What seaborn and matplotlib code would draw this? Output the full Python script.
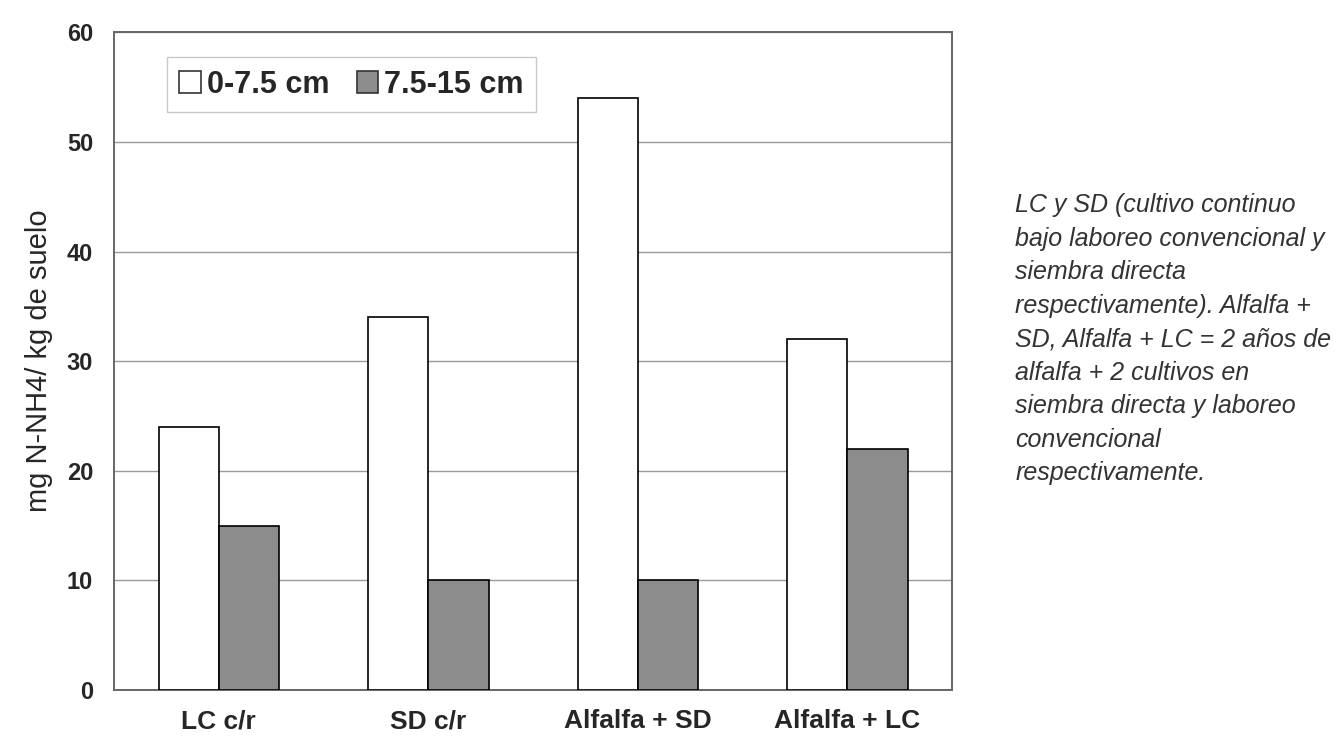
import pandas as pd
import matplotlib
matplotlib.use("Agg")
import matplotlib.pyplot as plt
import seaborn as sns

categories = ["LC c/r", "SD c/r", "Alfalfa + SD", "Alfalfa + LC"]
depths = ["0-7.5 cm", "7.5-15 cm"]
shallow = [24, 34, 54, 32]
deep = [15, 10, 10, 22]

df = pd.DataFrame({
    "trat": categories * 2,
    "prof": [depths[0]] * 4 + [depths[1]] * 4,
    "valor": shallow + deep,
})

sns.set_style("white")
plt.rcParams["font.family"] = ["Liberation Sans", "DejaVu Sans"]

fig = plt.figure(figsize=(13.41, 7.44), dpi=100)
ax = fig.add_axes([0.085, 0.0726, 0.625, 0.884])

sns.barplot(data=df, x="trat", y="valor", hue="prof",
            palette={depths[0]: "white", depths[1]: "#8c8c8c"},
            width=0.575, edgecolor="black", linewidth=1.2, ax=ax, zorder=3)

ax.set_ylim(0, 60)
ax.set_xlim(-0.5, 3.5)
ax.set_yticks(range(0, 61, 10))
ax.yaxis.grid(True, color="#9a9a9a", linewidth=1, zorder=0)
ax.set_axisbelow(True)
for s in ax.spines.values():
    s.set_color("#666666")
    s.set_linewidth(1.4)

ax.set_xticks([0, 1, 2, 3])
ax.set_xticklabels(categories, fontsize=19, fontweight="bold")
ax.set_xticks([0.5, 1.5, 2.5], minor=True)
ax.tick_params(axis="x", which="major", length=0, pad=14)
ax.tick_params(axis="x", which="minor", length=8, color="#aaaaaa", direction="out")
ax.tick_params(axis="y", length=6, color="#aaaaaa", direction="out", labelsize=17, pad=9)
for t in ax.get_yticklabels():
    t.set_fontweight("bold")

ax.set_xlabel("")
ax.set_ylabel("mg N-NH4/ kg de suelo", fontsize=21, labelpad=10)

leg = ax.legend(loc="upper left", bbox_to_anchor=(0.045, 0.985), ncol=2,
                frameon=True, fancybox=False, edgecolor="#bbbbbb",
                prop={"size": 22, "weight": "bold"},
                handlelength=0.7, handleheight=0.7, handletextpad=0.2,
                columnspacing=0.9, borderpad=0.4)
for h in leg.legend_handles:
    h.set_edgecolor("#333333")

note = ("LC y SD (cultivo continuo\n"
        "bajo laboreo convencional y\n"
        "siembra directa\n"
        "respectivamente). Alfalfa +\n"
        "SD, Alfalfa + LC = 2 años de\n"
        "alfalfa + 2 cultivos en\n"
        "siembra directa y laboreo\n"
        "convencional\n"
        "respectivamente.")
fig.text(0.757, 0.74, note, fontsize=18, style="italic", color="#333333",
         va="top", ha="left", linespacing=1.5)

fig.savefig("out.png", dpi=100)
